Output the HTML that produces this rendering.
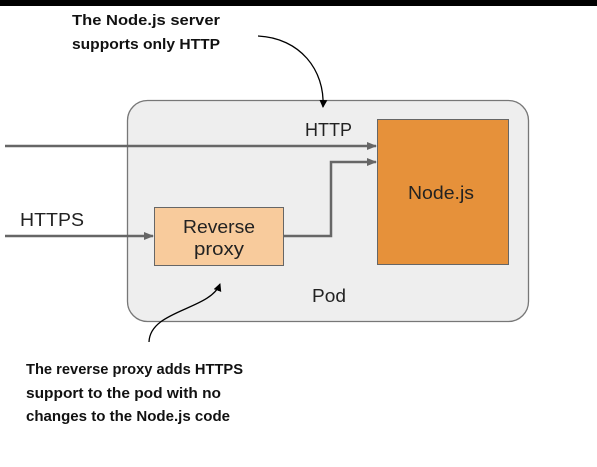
<!DOCTYPE html>
<html><head><style>html,body{margin:0;padding:0;background:#fff}svg{display:block}</style></head>
<body>
<svg width="597" height="467" viewBox="0 0 597 467" xmlns="http://www.w3.org/2000/svg" font-family="Liberation Sans, sans-serif">
<defs>
<marker id="a" markerWidth="10" markerHeight="8" refX="9" refY="4" orient="auto" markerUnits="userSpaceOnUse"><path d="M0,0 L10,4 L0,8 Z" fill="#666"/></marker>
<marker id="b" markerWidth="8" markerHeight="8" refX="7" refY="4" orient="auto" markerUnits="userSpaceOnUse"><path d="M0,0 L8,4 L0,8 Z" fill="#000"/></marker>
</defs>
<rect x="0" y="0" width="597" height="6" fill="#000"/>
<rect x="127.5" y="100.5" width="401" height="221" rx="20" fill="#eeeeee" stroke="#777" stroke-width="1.3"/>
<rect x="377.5" y="119.5" width="131" height="145" fill="#e6913a" stroke="#666"/>
<rect x="154.5" y="207.5" width="129" height="58" fill="#f8cb9c" stroke="#666"/>
<text x="441" y="199" font-size="18" text-anchor="middle" fill="#222" textLength="66" lengthAdjust="spacingAndGlyphs">Node.js</text>
<text x="219" y="233" font-size="18" text-anchor="middle" fill="#222" textLength="72" lengthAdjust="spacingAndGlyphs">Reverse</text>
<text x="219" y="255" font-size="18" text-anchor="middle" fill="#222" textLength="50" lengthAdjust="spacingAndGlyphs">proxy</text>
<text x="305" y="136" font-size="18" fill="#222" textLength="47" lengthAdjust="spacingAndGlyphs">HTTP</text>
<text x="20" y="226" font-size="18" fill="#222" textLength="64" lengthAdjust="spacingAndGlyphs">HTTPS</text>
<text x="312" y="302" font-size="18" fill="#222" textLength="34" lengthAdjust="spacingAndGlyphs">Pod</text>
<line x1="5" y1="146" x2="376" y2="146" stroke="#666" stroke-width="2.5" marker-end="url(#a)"/>
<line x1="5" y1="236" x2="153" y2="236" stroke="#666" stroke-width="2.5" marker-end="url(#a)"/>
<polyline points="284,236 331,236 331,162 376,162" fill="none" stroke="#666" stroke-width="2.5" marker-end="url(#a)"/>
<path d="M258,36 C300,38 325,70 323,107" fill="none" stroke="#000" stroke-width="1.3" marker-end="url(#b)"/>
<path d="M149,342 C150,310 210,310 220,284" fill="none" stroke="#000" stroke-width="1.3" marker-end="url(#b)"/>
<g font-size="15" font-weight="bold" fill="#111">
<text x="72" y="25" textLength="148" lengthAdjust="spacingAndGlyphs">The Node.js server</text>
<text x="72" y="49" textLength="148" lengthAdjust="spacingAndGlyphs">supports only HTTP</text>
<text x="26" y="374" textLength="217" lengthAdjust="spacingAndGlyphs">The reverse proxy adds HTTPS</text>
<text x="26" y="398" textLength="195" lengthAdjust="spacingAndGlyphs">support to the pod with no</text>
<text x="26" y="421" textLength="204" lengthAdjust="spacingAndGlyphs">changes to the Node.js code</text>
</g>
</svg>
</body></html>
